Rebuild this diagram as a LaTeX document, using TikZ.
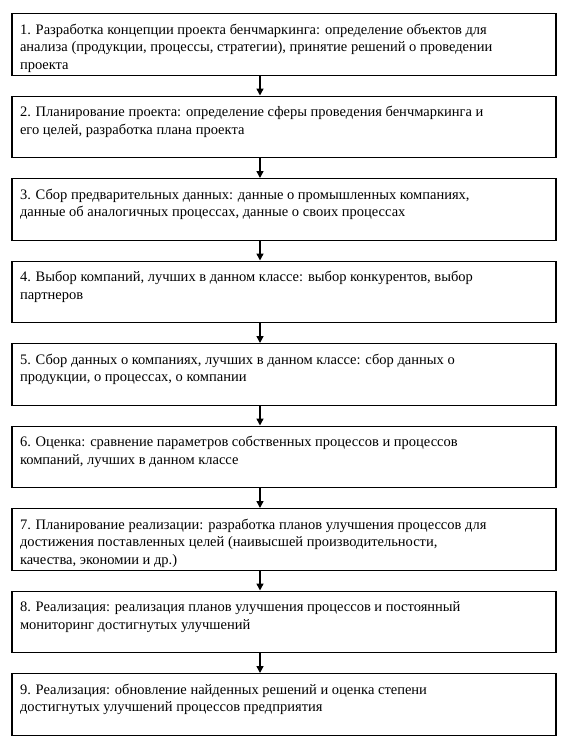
\documentclass[tikz,border=0pt]{standalone}
\usepackage{fontspec}
\setmainfont{Liberation Serif}
\usetikzlibrary{arrows.meta, positioning}

\newcommand{\stagetext}[1]{\parbox[c][45pt][t]{528pt}{\raggedright\strut #1}}

\begin{document}
\begin{tikzpicture}[
        x=1pt, y=1pt,
        stage/.style={rectangle, draw, line width=1.2pt, anchor=north, minimum width=544pt, minimum height=61.5pt, inner xsep=8pt, inner ysep=8.25pt, font=\fontsize{14.5}{17.5}\selectfont},
        arrow/.style={-{Triangle[length=7pt, width=7pt]}, line width=1.5pt}
    ]
        \useasboundingbox (0,0) rectangle (569,-748);

        % Stages
        \foreach \i/\w in {
            1/{1. Разработка концепции проекта бенчмаркинга: определение объектов для\\ анализа (продукции, процессы, стратегии), принятие решений о проведении\\ проекта},
            2/{2. Планирование проекта: определение сферы проведения бенчмаркинга и\\ его целей, разработка плана проекта},
            3/{3. Сбор предварительных данных: данные о промышленных компаниях,\\ данные об аналогичных процессах, данные о своих процессах},
            4/{4. Выбор компаний, лучших в данном классе: выбор конкурентов, выбор\\ партнеров},
            5/{5. Сбор данных о компаниях, лучших в данном классе: сбор данных о\\ продукции, о процессах, о компании},
            6/{6. Оценка: сравнение параметров собственных процессов и процессов\\ компаний, лучших в данном классе},
            7/{7. Планирование реализации: разработка планов улучшения процессов для\\ достижения поставленных целей (наивысшей производительности,\\ качества, экономии и др.)},
            8/{8. Реализация: реализация планов улучшения процессов и постоянный\\ мониторинг достигнутых улучшений},
            9/{9. Реализация: обновление найденных решений и оценка степени\\ достигнутых улучшений процессов предприятия}} {
            \node[stage] (s\i) at (284, {-13-(\i-1)*82.5}) {\stagetext{\w}};
        }

        % Arrows between stages
        \foreach \i [evaluate=\i as \j using int(\i+1)] in {1,...,8} {
            \draw[arrow] ([xshift=-24pt]s\i.south) -- ([xshift=-24pt]s\j.north);
        }
    \end{tikzpicture}
\end{document}
